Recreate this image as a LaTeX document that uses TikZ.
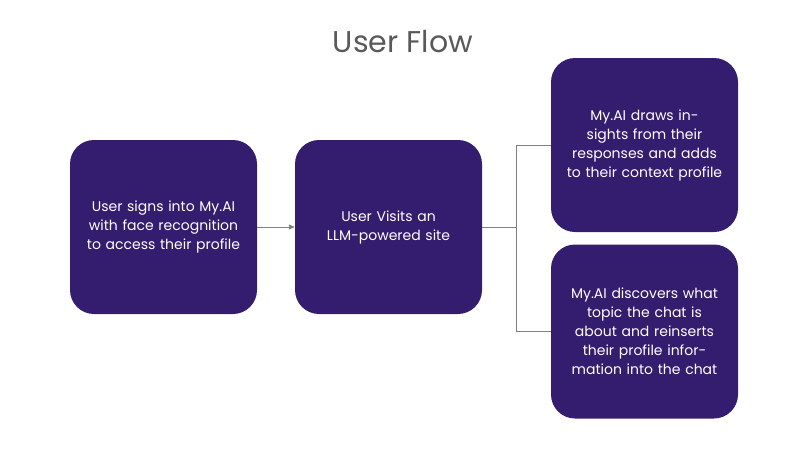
\documentclass[tikz,border=0pt]{standalone}
\usepackage{fontspec}
\setmainfont{Poppins}
\usetikzlibrary{arrows.meta}
\definecolor{boxc}{HTML}{341C6E}
\definecolor{linec}{HTML}{808080}
\begin{document}
\begin{tikzpicture}[x=1pt,y=-1pt,
  box/.style={fill=boxc,rounded corners=24pt,minimum width=187pt,minimum height=174pt,text width=160pt,align=center,text=white,font=\fontsize{14}{19}\selectfont,inner sep=0pt},
  conn/.style={draw=linec,line width=0.9pt}]
\useasboundingbox (0,0) rectangle (806,448);
\node[text=black!65,font=\fontsize{30}{36}\selectfont] (title) at (403,42) {User Flow};
\node[box] (b1) at (163.5,227) {User signs into My.AI with face recognition to access their profile};
\node[box] (b2) at (388.5,227) {User Visits an\\LLM-powered site};
\node[box] (b3) at (644.5,145) {My.AI draws insights from their responses and adds to their context profile};
\node[box,text width=150pt] (b4) at (644.5,331.5) {My.AI discovers what topic the chat is about and reinserts their profile information into the chat};
\coordinate (j) at (516,227);
\draw[conn,-{Triangle[length=6pt,width=5pt]}] (b1) -- (b2);
\draw[conn] (b2) -- (j);
\draw[conn] (j) |- (b3.west);
\draw[conn] (j) |- (b4.west);
\end{tikzpicture}
\end{document}
